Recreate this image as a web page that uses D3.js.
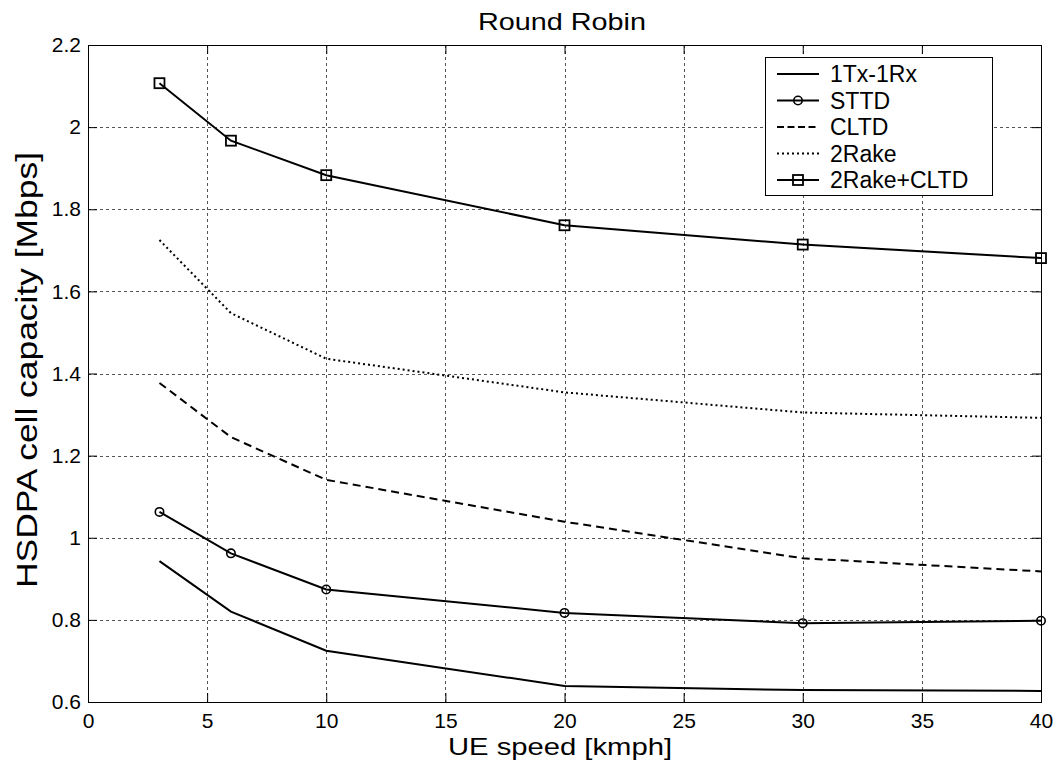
<!DOCTYPE html>
<html>
<head>
<meta charset="utf-8">
<script src="https://cdn.jsdelivr.net/npm/d3@7"></script>
<style>
  html, body { margin: 0; padding: 0; background: #fff; }
  svg { display: block; font-family: "Liberation Sans", Arial, Helvetica, sans-serif; }
</style>
</head>
<body>
<svg id="chart" width="1061" height="770"></svg>
<script>
// UE speed values (kmph)
const speeds = [3, 6, 10, 20, 30, 40];

// HSDPA cell capacity (Mbps) per receiver / transmit diversity scheme
const tx1rx1   = [0.943, 0.820, 0.725, 0.639, 0.629, 0.627];
const sttd     = [1.063, 0.962, 0.874, 0.817, 0.792, 0.798];
const cltd     = [1.377, 1.245, 1.141, 1.039, 0.950, 0.918];
const rake2    = [1.725, 1.547, 1.436, 1.354, 1.305, 1.292];
const rake2Cltd = [2.107, 1.967, 1.883, 1.761, 1.714, 1.681];

const seriesNames = ["1Tx-1Rx", "STTD", "CLTD", "2Rake", "2Rake+CLTD"];

const xTicks = [0, 5, 10, 15, 20, 25, 30, 35, 40];
const yTicks = [0.6, 0.8, 1.0, 1.2, 1.4, 1.6, 1.8, 2.0, 2.2];

const svg = d3.select("#chart");
const plotL = 88, plotR = 1041, plotT = 45, plotB = 702;

const x = d3.scaleLinear().domain([0, 40]).range([plotL, plotR]);
const y = d3.scaleLinear().domain([0.6, 2.2]).range([plotB, plotT]);

// grid
const grid = svg.append("g").attr("stroke", "#555").attr("stroke-width", 1)
  .attr("stroke-dasharray", "3,3").attr("shape-rendering", "crispEdges");
grid.selectAll("line.v").data(xTicks.slice(1, -1)).join("line")
  .attr("x1", d => Math.round(x(d)) + 0.5).attr("x2", d => Math.round(x(d)) + 0.5)
  .attr("y1", plotT).attr("y2", plotB);
grid.selectAll("line.h").data(yTicks.slice(1, -1)).join("line")
  .attr("y1", d => Math.round(y(d)) + 0.5).attr("y2", d => Math.round(y(d)) + 0.5)
  .attr("x1", plotL).attr("x2", plotR);

// axes with inward ticks on all four sides
const tickLen = 9;
function styleAxis(g) {
  g.select(".domain").remove();
  g.selectAll(".tick line").attr("stroke", "#000").attr("stroke-width", 1);
  g.selectAll(".tick text").attr("fill", "#000").attr("font-size", 21)
    .attr("font-family", "Liberation Sans, Arial, sans-serif");
}
svg.append("g").attr("transform", `translate(0,${plotB})`)
  .call(d3.axisBottom(x).tickValues(xTicks).tickSizeInner(-tickLen).tickSizeOuter(0)
    .tickPadding(11).tickFormat(d3.format("d")))
  .call(styleAxis);
svg.append("g").attr("transform", `translate(0,${plotT})`)
  .call(d3.axisTop(x).tickValues(xTicks).tickSizeInner(-tickLen).tickSizeOuter(0).tickFormat(""))
  .call(styleAxis);
svg.append("g").attr("transform", `translate(${plotL},0)`)
  .call(d3.axisLeft(y).tickValues(yTicks).tickSizeInner(-tickLen).tickSizeOuter(0)
    .tickPadding(7).tickFormat(d => String(+d.toFixed(1))))
  .call(styleAxis);
svg.append("g").attr("transform", `translate(${plotR},0)`)
  .call(d3.axisRight(y).tickValues(yTicks).tickSizeInner(-tickLen).tickSizeOuter(0).tickFormat(""))
  .call(styleAxis);

// plot box
svg.append("rect").attr("x", plotL + 0.5).attr("y", plotT + 0.5)
  .attr("width", plotR - plotL).attr("height", plotB - plotT)
  .attr("fill", "none").attr("stroke", "#000").attr("stroke-width", 1);

// series
const seriesData = [tx1rx1, sttd, cltd, rake2, rake2Cltd];
const styles = [
  { dash: null, legendDash: null, marker: null },
  { dash: null, legendDash: null, marker: "circle" },
  { dash: "8,5", legendDash: "7,3.5", marker: null },
  { dash: "2,3", legendDash: "2,3", marker: null },
  { dash: null, legendDash: null, marker: "square" }
];

const line = d3.line().x(d => x(d[0])).y(d => y(d[1]));

function drawMarker(g, type, cx, cy) {
  if (type === "circle") {
    g.append("circle").attr("cx", cx).attr("cy", cy).attr("r", 4.2)
      .attr("fill", "none").attr("stroke", "#000").attr("stroke-width", 1.6);
  } else if (type === "square") {
    g.append("rect").attr("x", cx - 5).attr("y", cy - 5).attr("width", 10).attr("height", 10)
      .attr("fill", "none").attr("stroke", "#000").attr("stroke-width", 1.8);
  }
}

const plot = svg.append("g");
seriesData.forEach((vals, i) => {
  const pts = speeds.map((s, j) => [s, vals[j]]);
  plot.append("path").datum(pts).attr("d", line)
    .attr("fill", "none").attr("stroke", "#000").attr("stroke-width", 2)
    .attr("stroke-dasharray", styles[i].dash);
  if (styles[i].marker) {
    pts.forEach(p => drawMarker(plot, styles[i].marker, x(p[0]), y(p[1])));
  }
});

// legend
const legend = svg.append("g");
legend.append("rect").attr("x", 765.5).attr("y", 57.5).attr("width", 227).attr("height", 138)
  .attr("fill", "#fff").attr("stroke", "#000").attr("stroke-width", 1);
seriesNames.forEach((name, i) => {
  const ry = 74 + i * 26.5;
  legend.append("line").attr("x1", 777).attr("x2", 819).attr("y1", ry).attr("y2", ry)
    .attr("stroke", "#000").attr("stroke-width", 2)
    .attr("stroke-dasharray", styles[i].legendDash);
  if (styles[i].marker) drawMarker(legend, styles[i].marker, 798, ry);
  legend.append("text").attr("x", 830).attr("y", ry + 8)
    .attr("font-size", 23).attr("fill", "#000").text(name);
});

// titles
svg.append("text").attr("x", 562).attr("y", 30).attr("text-anchor", "middle")
  .attr("font-size", 24).attr("textLength", 168).attr("lengthAdjust", "spacingAndGlyphs")
  .text("Round Robin");
svg.append("text").attr("x", 560).attr("y", 755).attr("text-anchor", "middle")
  .attr("font-size", 24).attr("textLength", 224).attr("lengthAdjust", "spacingAndGlyphs")
  .text("UE speed [kmph]");
svg.append("text").attr("transform", "translate(37,370) rotate(-90)").attr("text-anchor", "middle")
  .attr("font-size", 29).attr("textLength", 436).attr("lengthAdjust", "spacingAndGlyphs")
  .text("HSDPA cell capacity [Mbps]");
</script>
</body>
</html>
